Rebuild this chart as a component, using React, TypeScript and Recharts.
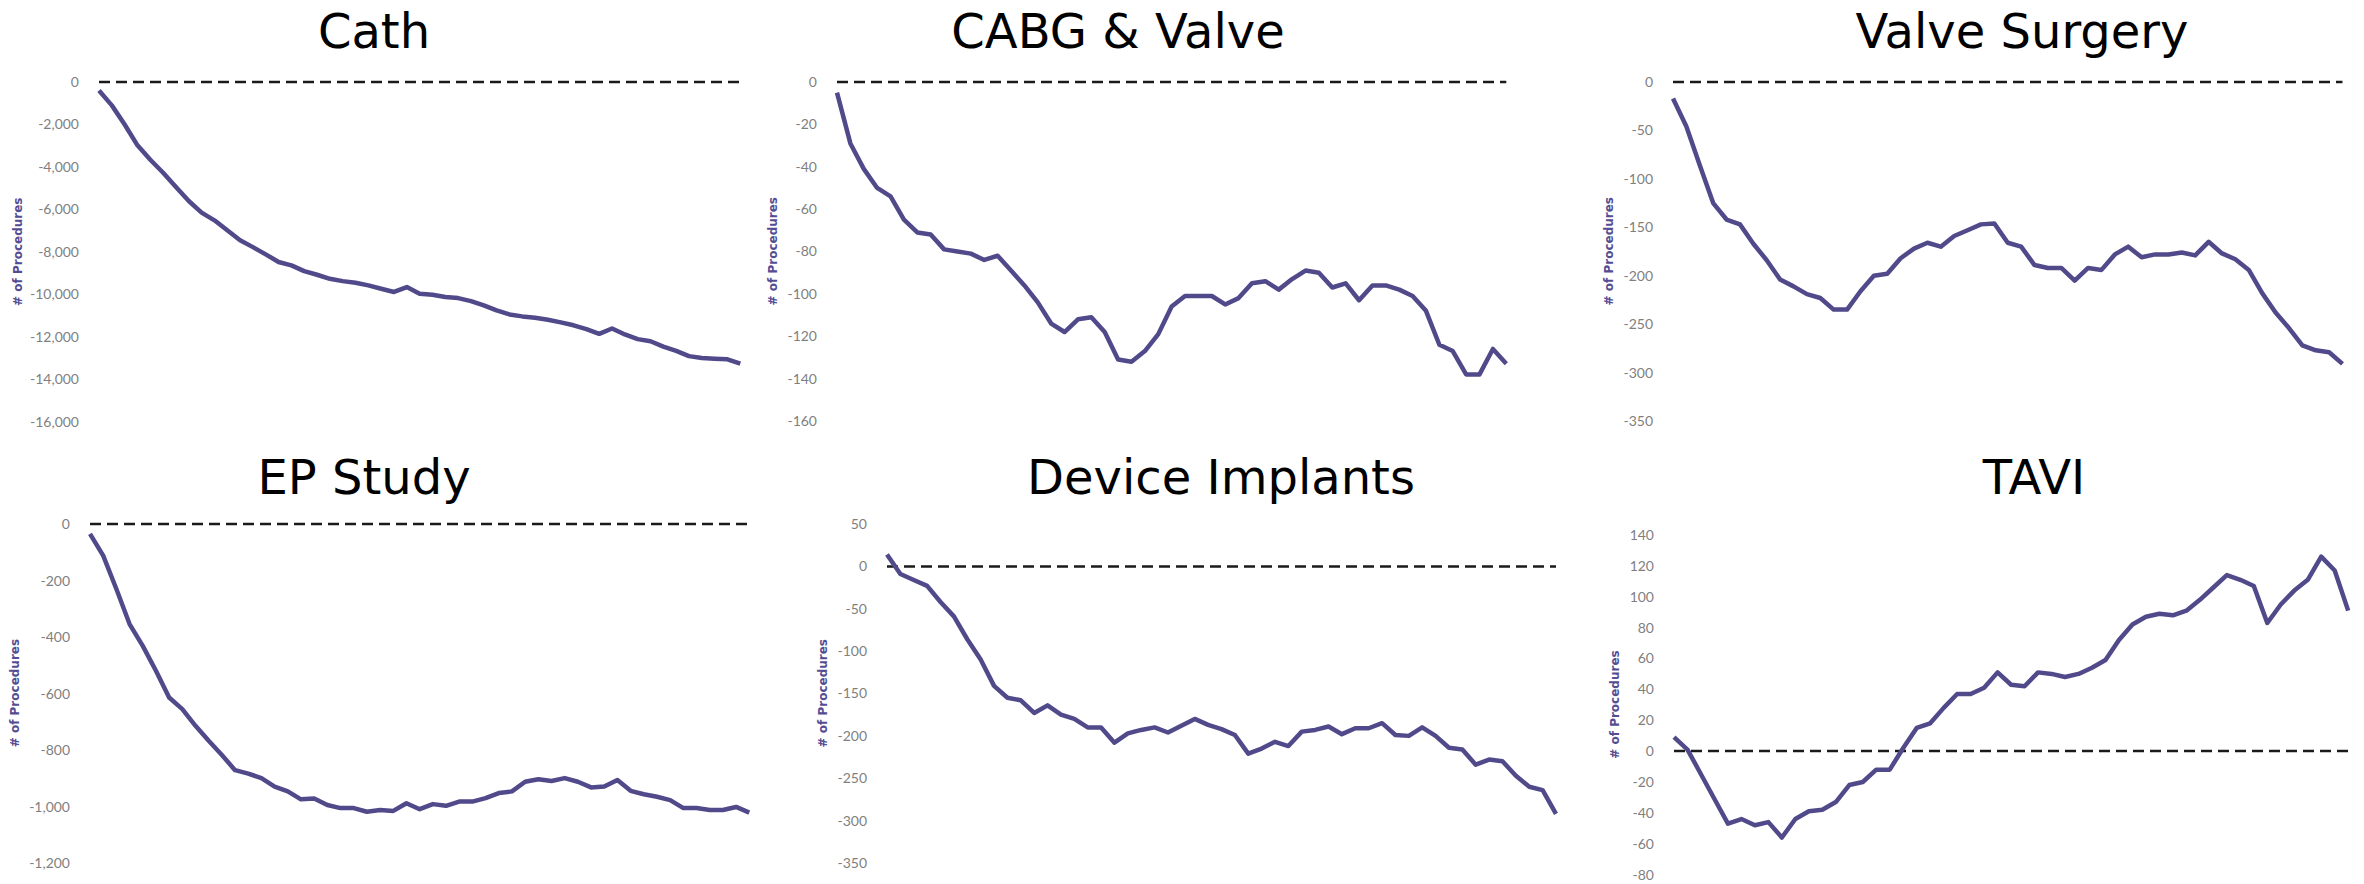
import React from 'react';
import { LineChart, Line, XAxis, YAxis, ReferenceLine } from 'recharts';

// ---------- DATA ----------
const titles = ['Cath', 'CABG & Valve', 'Valve Surgery', 'EP Study', 'Device Implants', 'TAVI'];
const axisLabel = '# of Procedures';

const cathValues = [
  -400, -1100, -2000, -2980, -3660, -4270, -4940, -5600, -6150, -6510,
  -6980, -7450, -7770, -8110, -8470, -8630, -8900, -9070, -9260, -9370,
  -9450, -9570, -9730, -9880, -9650, -9960, -10010, -10120, -10170, -10310,
  -10510, -10750, -10940, -11030, -11090, -11190, -11310, -11450, -11630, -11850,
  -11600, -11880, -12100, -12200, -12450, -12650, -12900, -12990, -13020, -13050,
  -13250,
];
const cabgValues = [
  -5, -29, -41, -50, -54, -65, -71, -72, -79, -80,
  -81, -84, -82, -89, -96, -104, -114, -118, -112, -111,
  -118, -131, -132, -127, -119, -106, -101, -101, -101, -105,
  -102, -95, -94, -98, -93, -89, -90, -97, -95, -103,
  -96, -96, -98, -101, -108, -124, -127, -138, -138, -126,
  -133,
];
const valveValues = [
  -17, -46, -86, -125, -142, -147, -167, -184, -204, -211,
  -219, -223, -235, -235, -216, -200, -198, -182, -172, -166,
  -170, -159, -153, -147, -146, -166, -170, -189, -192, -192,
  -205, -192, -194, -178, -170, -181, -178, -178, -176, -179,
  -165, -177, -183, -194, -218, -238, -254, -272, -277, -279,
  -291,
];
const epValues = [
  -35, -112, -230, -354, -431, -519, -614, -655, -714, -767,
  -817, -871, -883, -899, -929, -946, -974, -971, -994, -1005,
  -1005, -1018, -1012, -1015, -988, -1009, -991, -997, -982, -982,
  -970, -952, -946, -912, -903, -909, -899, -912, -932, -929,
  -906, -944, -956, -965, -977, -1005, -1005, -1012, -1012, -1001,
  -1021,
];
const deviceValues = [
  14, -9, -16, -23, -42, -59, -86, -110, -141, -155,
  -158, -173, -164, -175, -180, -190, -190, -208, -197, -193,
  -190, -196, -188, -180, -187, -192, -199, -221, -215, -207,
  -212, -195, -193, -189, -198, -191, -191, -185, -199, -200,
  -190, -200, -214, -216, -234, -228, -230, -247, -260, -264,
  -292,
];
const taviValues = [
  9, 1, -15, -31, -47, -44, -48, -46, -56, -44,
  -39, -38, -33, -22, -20, -12, -12, 2, 15, 18,
  28, 37, 37, 41, 51, 43, 42, 51, 50, 48,
  50, 54, 59, 72, 82, 87, 89, 88, 91, 98,
  106, 114, 111, 107, 83, 95, 104, 111, 126, 117,
  91,
];

const cathTicks = [0, -2000, -4000, -6000, -8000, -10000, -12000, -14000, -16000];
const cabgTicks = [0, -20, -40, -60, -80, -100, -120, -140, -160];
const valveTicks = [0, -50, -100, -150, -200, -250, -300, -350];
const epTicks = [0, -200, -400, -600, -800, -1000, -1200];
const deviceTicks = [50, 0, -50, -100, -150, -200, -250, -300, -350];
const taviTicks = [140, 120, 100, 80, 60, 40, 20, 0, -20, -40, -60, -80];

const seriesList = [cathValues, cabgValues, valveValues, epValues, deviceValues, taviValues];
const tickList = [cathTicks, cabgTicks, valveTicks, epTicks, deviceTicks, taviTicks];

// ---------- LAYOUT ----------
const layout = [
  { plotLeft: 99.3, plotRight: 740.6, yTop: 81.7, yBot: 421.7, titleX: 374, titleY: 48.3, labelX: 17.6 },
  { plotLeft: 837.3, plotRight: 1506.6, yTop: 81.7, yBot: 420.7, titleX: 1118, titleY: 48.3, labelX: 773 },
  { plotLeft: 1672.5, plotRight: 2342, yTop: 81.7, yBot: 420.7, titleX: 2022, titleY: 48.3, labelX: 1609 },
  { plotLeft: 89.7, plotRight: 749, yTop: 523.5, yBot: 862.7, titleX: 364, titleY: 493.7, labelX: 15 },
  { plotLeft: 887, plotRight: 1556, yTop: 523.7, yBot: 862.7, titleX: 1221, titleY: 494.3, labelX: 823 },
  { plotLeft: 1673.8, plotRight: 2348, yTop: 534.7, yBot: 874.3, titleX: 2034, titleY: 494, labelX: 1615 },
];

const LINE_COLOR = '#514a8a';
const LABEL_COLOR = '#554d93';
const TICK_COLOR = '#7f7f7f';
const YW = 80;
const MT = 12;
const MB = 12;
const MR = 6;

const fmt = (v: number) => v.toLocaleString('en-US');

function Panel({ idx }: { idx: number }) {
  const L = layout[idx];
  const values = seriesList[idx];
  const ticks = tickList[idx];
  const data = values.map((v, i) => ({ i, v }));
  const plotW = L.plotRight - L.plotLeft;
  const plotH = L.yBot - L.yTop;
  const width = YW + plotW + MR;
  const height = plotH + MT + MB;
  const max = Math.max(...ticks);
  const min = Math.min(...ticks);
  return (
    <div style={{ position: 'absolute', left: L.plotLeft - YW, top: L.yTop - MT }}>
      <LineChart width={width} height={height} data={data} margin={{ top: MT, right: MR, bottom: MB, left: 0 }}>
        <XAxis dataKey="i" hide />
        <YAxis
          width={YW}
          domain={[min, max]}
          ticks={ticks}
          interval={0}
          axisLine={false}
          tickLine={false}
          tickSize={0}
          tickMargin={20}
          tickFormatter={fmt}
          tick={{ fill: TICK_COLOR, fontSize: 14, fontFamily: 'Lato' }}
        />
        <ReferenceLine y={0} stroke="#1a1a1a" strokeWidth={2.5} strokeDasharray="11 6" />
        <Line
          type="linear"
          dataKey="v"
          stroke={LINE_COLOR}
          strokeWidth={4.5}
          dot={false}
          activeDot={false}
          isAnimationActive={false}
          strokeLinejoin="round"
        />
      </LineChart>
    </div>
  );
}

export default function App() {
  return (
    <div style={{ position: 'relative', width: 2364, height: 884, background: '#fff', overflow: 'hidden' }}>
      <style>{'body{margin:0;}'}</style>
      {layout.map((_, i) => (
        <Panel key={i} idx={i} />
      ))}
      <svg width={2364} height={884} style={{ position: 'absolute', left: 0, top: 0, pointerEvents: 'none' }}>
        {layout.map((L, i) => (
          <g key={i}>
            <text
              x={L.titleX}
              y={L.titleY}
              textAnchor="middle"
              fontFamily="'DejaVu Sans', sans-serif"
              fontSize={48}
              fill="#000"
            >
              {titles[i]}
            </text>
            <text
              x={L.labelX}
              y={(L.yTop + L.yBot) / 2}
              transform={`rotate(-90 ${L.labelX} ${(L.yTop + L.yBot) / 2})`}
              textAnchor="middle"
              dominantBaseline="central"
              fontFamily="'DejaVu Sans', sans-serif"
              fontWeight="bold"
              fontSize={12}
              fill={LABEL_COLOR}
            >
              {axisLabel}
            </text>
          </g>
        ))}
      </svg>
    </div>
  );
}
